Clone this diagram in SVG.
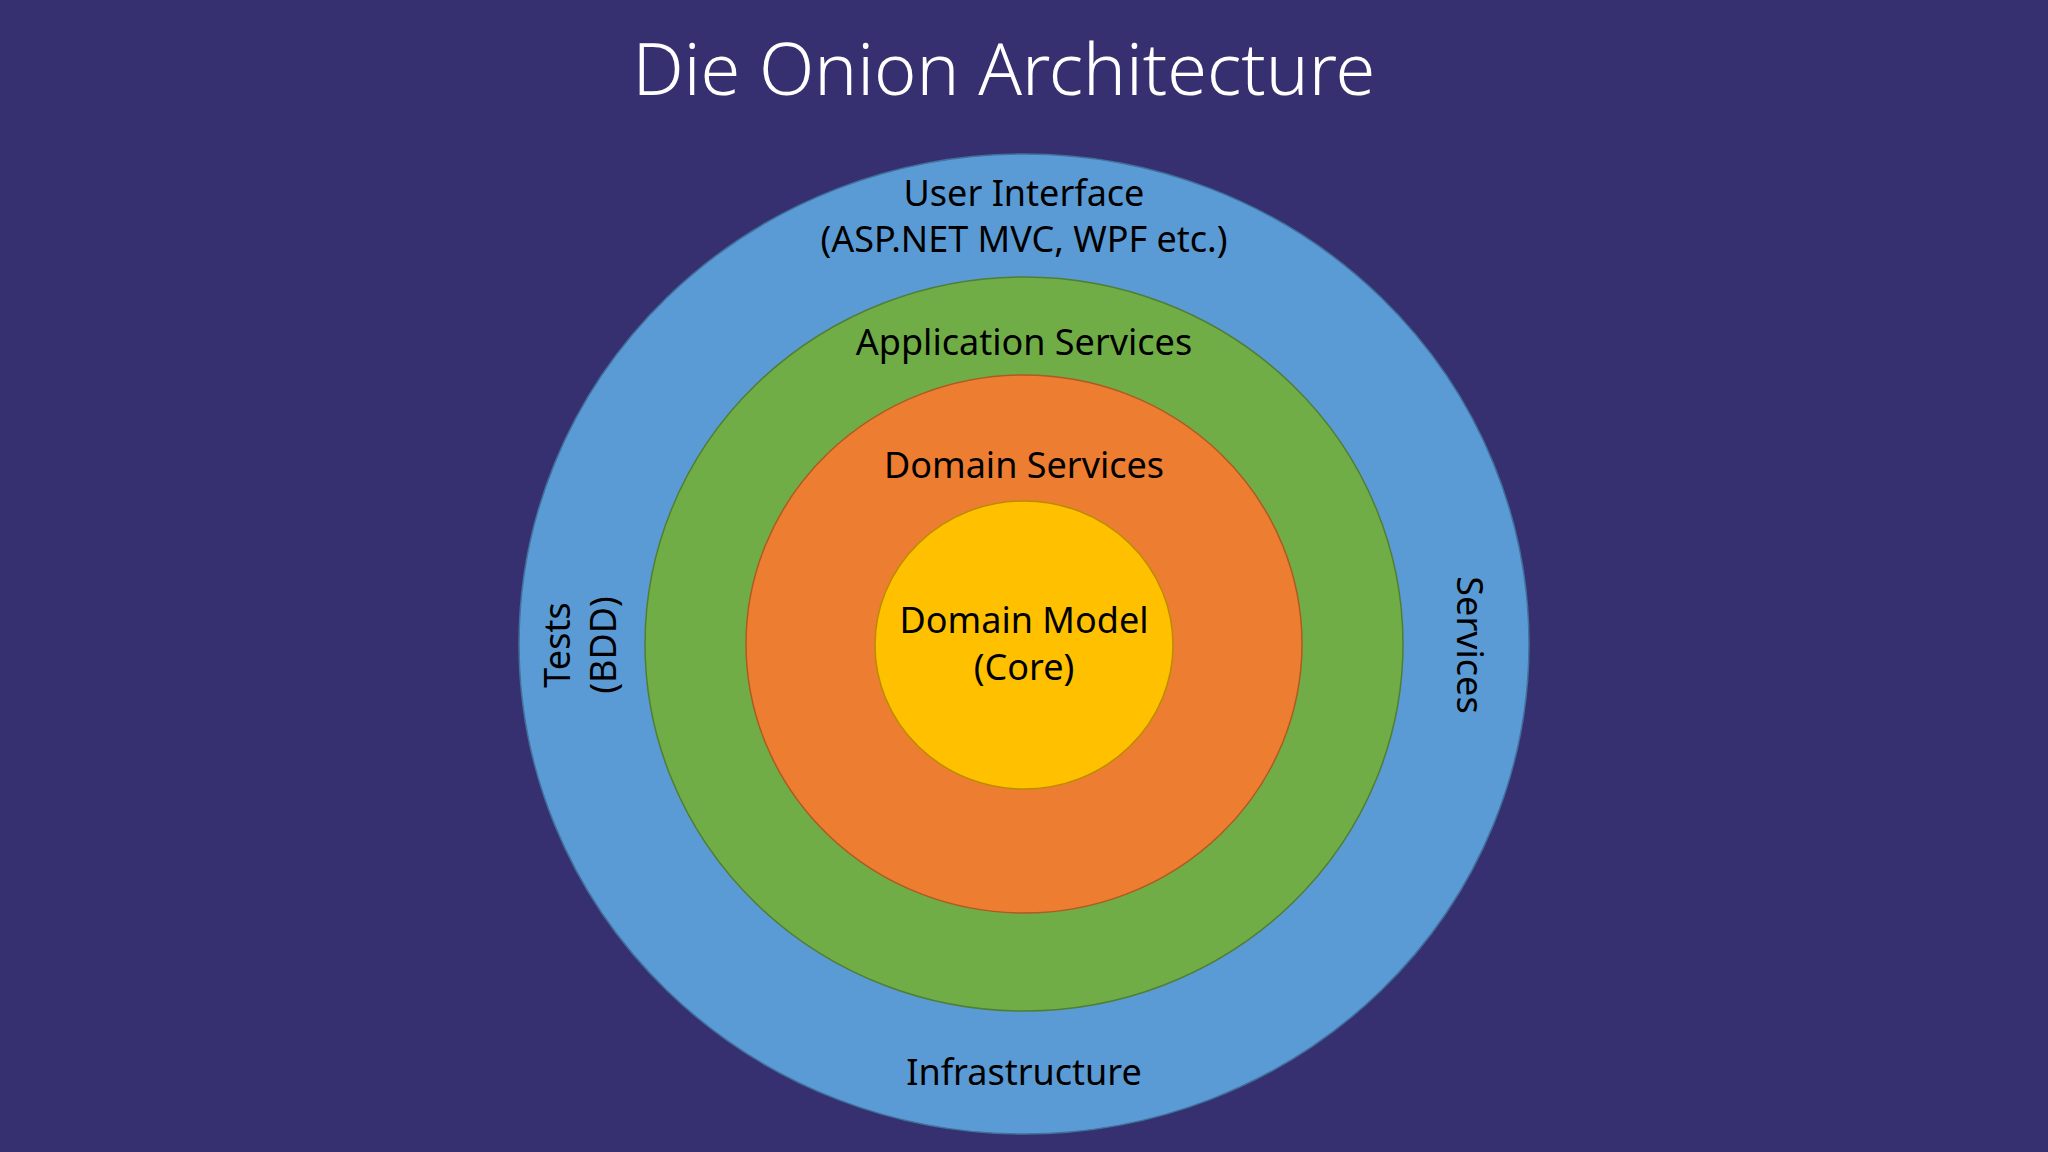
<svg xmlns="http://www.w3.org/2000/svg" width="2048" height="1152" viewBox="0 0 2048 1152">
<style>
text{font-family:"Noto Sans","Open Sans",sans-serif;fill:#000;text-anchor:middle;font-size:36px}
.title{fill:#fff;font-size:72px;font-weight:300}
.ring{stroke-width:1.5}
</style>
<rect width="2048" height="1152" fill="#363070"/>
<text class="title" x="1004" y="95">Die Onion Architecture</text>
<g id="infrastructure"><ellipse class="ring" cx="1024" cy="644" rx="505" ry="490" fill="#5B9BD5" stroke="#41719C"/>
<text x="1024" y="206">User Interface</text><text x="1024" y="252">(ASP.NET MVC, WPF etc.)</text>
<text x="1024" y="1085">Infrastructure</text>
<text transform="translate(570,645) rotate(-90)">Tests</text>
<text transform="translate(616,645) rotate(-90)">(BDD)</text>
<text transform="translate(1457,645) rotate(90)">Services</text></g>
<g id="application"><ellipse class="ring" cx="1024" cy="644" rx="379" ry="367" fill="#70AD47" stroke="#507E32"/>
<text x="1024" y="355">Application Services</text></g>
<g id="domainservices"><ellipse class="ring" cx="1024" cy="644" rx="278" ry="269" fill="#ED7D31" stroke="#AE5A21"/>
<text x="1024" y="478">Domain Services</text></g>
<g id="core"><ellipse class="ring" cx="1024" cy="645" rx="149" ry="144" fill="#FFC000" stroke="#BC8C00"/>
<text x="1024" y="633">Domain Model</text><text x="1024" y="680">(Core)</text></g>
<g id="connectors"/>
</svg>
